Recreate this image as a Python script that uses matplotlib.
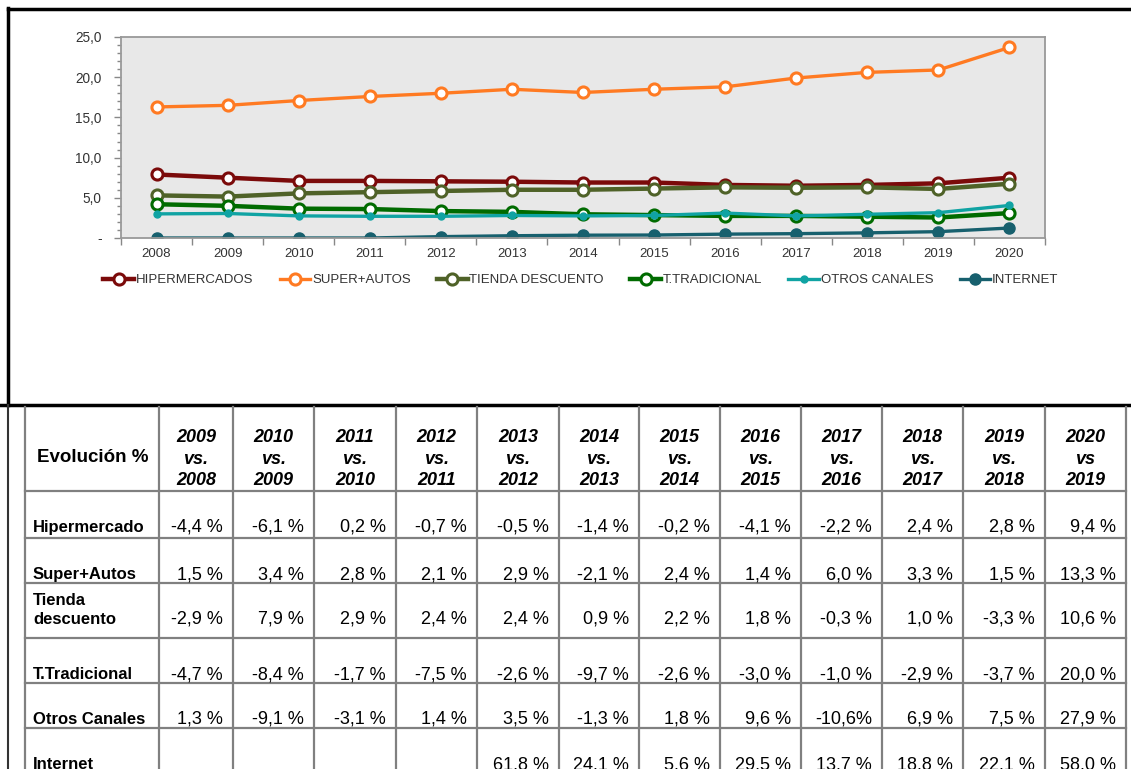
import numpy as np
import matplotlib
matplotlib.use("Agg")
import matplotlib.pyplot as plt
from matplotlib.ticker import MultipleLocator, FixedLocator, FuncFormatter

plt.rcParams['font.family'] = ['Liberation Sans', 'DejaVu Sans']

# ---- chart data ----
years = [str(y) for y in range(2008, 2021)]
hipermercados = [7.9, 7.5, 7.1, 7.1, 7.05, 7.0, 6.9, 6.9, 6.6, 6.5, 6.6, 6.8, 7.5]
super_autos = [16.3, 16.5, 17.1, 17.6, 18.0, 18.5, 18.1, 18.5, 18.8, 19.9, 20.6, 20.9, 23.7]
tienda_descuento = [5.3, 5.15, 5.55, 5.7, 5.85, 6.0, 6.0, 6.15, 6.3, 6.25, 6.3, 6.1, 6.75]
t_tradicional = [4.2, 4.0, 3.65, 3.6, 3.35, 3.25, 2.95, 2.85, 2.75, 2.75, 2.65, 2.55, 3.1]
otros_canales = [3.0, 3.05, 2.75, 2.7, 2.7, 2.8, 2.75, 2.8, 3.1, 2.75, 2.95, 3.15, 4.05]
internet = [0.0, 0.0, 0.0, 0.0, 0.17, 0.28, 0.35, 0.37, 0.48, 0.54, 0.64, 0.79, 1.24]

series_names = ['HIPERMERCADOS', 'SUPER+AUTOS', 'TIENDA DESCUENTO',
                'T.TRADICIONAL', 'OTROS CANALES', 'INTERNET']

# ---- table data ----
table_cols = ['2009\nvs.\n2008', '2010\nvs.\n2009', '2011\nvs.\n2010', '2012\nvs.\n2011',
              '2013\nvs.\n2012', '2014\nvs.\n2013', '2015\nvs.\n2014', '2016\nvs.\n2015',
              '2017\nvs.\n2016', '2018\nvs.\n2017', '2019\nvs.\n2018', '2020\nvs\n2019']
table_rows = ['Hipermercado', 'Super+Autos', 'Tienda\ndescuento', 'T.Tradicional',
              'Otros Canales', 'Internet']
table_vals = [
    ['-4,4 %', '-6,1 %', '0,2 %', '-0,7 %', '-0,5 %', '-1,4 %', '-0,2 %', '-4,1 %', '-2,2 %', '2,4 %', '2,8 %', '9,4 %'],
    ['1,5 %', '3,4 %', '2,8 %', '2,1 %', '2,9 %', '-2,1 %', '2,4 %', '1,4 %', '6,0 %', '3,3 %', '1,5 %', '13,3 %'],
    ['-2,9 %', '7,9 %', '2,9 %', '2,4 %', '2,4 %', '0,9 %', '2,2 %', '1,8 %', '-0,3 %', '1,0 %', '-3,3 %', '10,6 %'],
    ['-4,7 %', '-8,4 %', '-1,7 %', '-7,5 %', '-2,6 %', '-9,7 %', '-2,6 %', '-3,0 %', '-1,0 %', '-2,9 %', '-3,7 %', '20,0 %'],
    ['1,3 %', '-9,1 %', '-3,1 %', '1,4 %', '3,5 %', '-1,3 %', '1,8 %', '9,6 %', '-10,6%', '6,9 %', '7,5 %', '27,9 %'],
    ['', '', '', '', '61,8 %', '24,1 %', '5,6 %', '29,5 %', '13,7 %', '18,8 %', '22,1 %', '58,0 %'],
]

W, H = 1131, 769
fig = plt.figure(figsize=(W / 100, H / 100), dpi=100)

# ---- line chart ----
ax = fig.add_axes([121 / W, 1 - 238 / H, (1045 - 121) / W, (238 - 37) / H])
ax.set_facecolor('#e8e8e8')
x = np.arange(len(years))

open_style = dict(marker='o', markersize=8, markerfacecolor='white', markeredgewidth=2.2)
ax.plot(x, hipermercados, color='#7b0a0a', lw=3.2, **open_style, label=series_names[0])
ax.plot(x, super_autos, color='#ff7a22', lw=2.4, **open_style, label=series_names[1])
ax.plot(x, tienda_descuento, color='#4f6228', lw=3.2, **open_style, label=series_names[2])
ax.plot(x, t_tradicional, color='#006b00', lw=3.2, **open_style, label=series_names[3])
ax.plot(x, otros_canales, color='#10a3a3', lw=2.4, marker='o', markersize=5,
        label=series_names[4])
ax.plot(x, internet, color='#17606e', lw=2.4, marker='o', markersize=8,
        label=series_names[5])

ax.set_xlim(-0.5, len(years) - 0.5)
ax.set_ylim(0, 25)
ax.yaxis.set_major_locator(MultipleLocator(5))
ax.yaxis.set_minor_locator(MultipleLocator(1))
ax.yaxis.set_major_formatter(FuncFormatter(
    lambda v, p: '-' if v == 0 else f'{v:.1f}'.replace('.', ',')))
ax.set_xticks(x)
ax.set_xticklabels(years)
ax.xaxis.set_minor_locator(FixedLocator(np.arange(-0.5, len(years), 1.0)))
ax.tick_params(axis='x', which='major', length=0, pad=7, labelsize=9.5, colors='#333333')
ax.tick_params(axis='x', which='minor', length=5, width=1, color='#888888')
ax.tick_params(axis='y', which='major', length=5, width=1, color='#888888',
               labelsize=9.8, labelcolor='#333333', pad=9)
ax.tick_params(axis='y', which='minor', length=3, width=1, color='#888888')
for s in ax.spines.values():
    s.set_color('#999999')
    s.set_linewidth(1.3)

fig.legend(loc='center', bbox_to_anchor=(581 / W, 1 - 280 / H), ncol=6, frameon=False,
           fontsize=9.5, handlelength=2.3, handletextpad=0.15, columnspacing=2.0,
           labelcolor='#333333')

# ---- frame lines and table (pixel coordinates) ----
ov = fig.add_axes([0, 0, 1, 1])
ov.set_xlim(0, W)
ov.set_ylim(H, 0)
ov.axis('off')
ov.patch.set_alpha(0)

ov.plot([8, W], [9, 9], color='black', lw=2.5)
ov.plot([8, 8], [8, 405], color='black', lw=2.5)
ov.plot([0, W], [405, 405], color='black', lw=2.5)
ov.plot([8, 8], [405, H], color='#333333', lw=1.5)

col_x = [25, 159, 233, 314, 396, 477, 559, 639, 720, 801, 882, 963, 1045, 1126]
row_y = [407, 491, 538, 583, 638, 683, 728, H + 40]
grid = '#808080'
for cx in col_x:
    ov.plot([cx, cx], [row_y[0], H], color=grid, lw=1.6)
for ry in row_y[1:-1]:
    ov.plot([col_x[0], col_x[-1]], [ry, ry], color=grid, lw=1.6)

ov.text(37, 457, 'Evolución %', fontsize=13.5, fontweight='bold', va='center', ha='left')
for j, lab in enumerate(table_cols):
    cx = (col_x[j + 1] + col_x[j + 2]) / 2
    ov.text(cx, 459, lab, fontsize=13, fontweight='bold', style='italic',
            ha='center', va='center', linespacing=1.38)

for i, name in enumerate(table_rows):
    yb = row_y[i + 1] + 44
    ov.text(33, yb, name, fontsize=12, fontweight='bold', ha='left', va='bottom',
            linespacing=1.3)
    for j, val in enumerate(table_vals[i]):
        ov.text(col_x[j + 2] - 10, yb + 1, val, fontsize=13, ha='right', va='bottom')

fig.savefig('out.png', dpi=100)
